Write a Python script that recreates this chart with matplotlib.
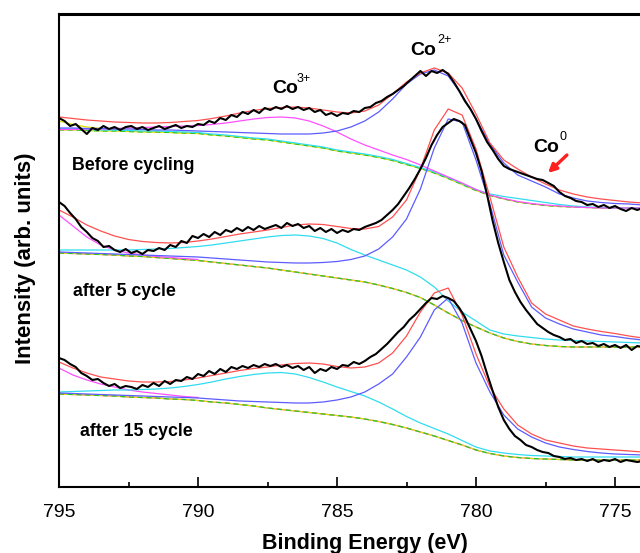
import numpy as np
import matplotlib
matplotlib.use("Agg")
import matplotlib.pyplot as plt
from matplotlib.ticker import MultipleLocator

plt.rcParams['font.family'] = ['Liberation Sans', 'DejaVu Sans']

# energy grids (eV): raw spectra every 0.2 eV, fitted curves every 0.5 eV
raw_ev = np.linspace(795, 774, 106)
fit_ev = np.linspace(795, 774, 43)
left_ev = fit_ev[:11]

# ---------------- Before cycling ----------------
top_raw = [369, 366, 361, 363, 358, 353, 359, 357, 361, 358,
           360, 357, 360, 361, 358, 360, 357, 359, 361, 358,
           360, 362, 359, 361, 360, 363, 362, 366, 364, 369,
           367, 372, 370, 375, 373, 377, 374, 379, 377, 380,
           378, 381, 378, 380, 377, 379, 375, 377, 372, 374,
           371, 374, 373, 376, 375, 379, 380, 384, 386, 390,
           393, 397, 401, 406, 411, 416, 411, 416, 414, 417,
           413, 405, 396, 386, 378, 368, 356, 345, 337, 328,
           321, 318, 316, 314, 312, 310, 308, 307, 304, 301,
           295, 291, 289, 286, 285, 282, 283, 280, 282, 279,
           281, 278, 276, 279, 277, 279]
top_env = [370, 368.5, 367, 366, 365, 364.5, 364, 364, 364.5, 365.5,
           366.5, 368.5, 371, 374, 376.5, 378.5, 379.5, 380, 379, 377,
           375, 374, 376, 382, 393, 405, 414, 419, 414, 399,
           373, 344, 327, 318, 310, 303, 297, 293, 290, 288,
           286.5, 285, 284]
top_co2 = [359, 359, 358.5, 358.5, 358, 358, 357.5, 357, 357, 356.5,
           356, 355.5, 355, 354.5, 354, 353.5, 353, 353, 353, 354,
           356, 360, 366, 375, 388, 403, 413, 417, 411, 392,
           368, 343, 324, 312, 306, 300, 293, 289, 286, 284.5,
           283.5, 283, 282]
top_co3 = [357.5, 357.5, 358, 358, 358.5, 359, 359.5, 360, 360.5, 361,
           361.5, 362.5, 364, 366, 368, 369.5, 370, 369, 366, 361,
           355, 348, 342, 337, 332, 327.5, 322, 316, 310, 304,
           297.5, 292, 288.5, 285.5, 283.5, 282, 281, 280, 279.5, 279,
           279, 279, 279]
top_co0 = [358, 358, 357.5, 357, 357, 356.5, 356, 356, 355.5, 355,
           354.5, 353, 352, 350.5, 349, 348, 346, 344, 342, 340,
           337, 335, 333, 330.5, 327.5, 323.5, 319.5, 315, 309.5, 303.5,
           297.5, 293, 290.5, 288.5, 286.5, 284.5, 282.5, 281, 280, 279.5,
           279, 279, 279]
top_bg = [357, 357, 356.5, 356, 356, 355.5, 355, 355, 354.5, 354,
          353.5, 352, 351, 349.5, 348, 347, 345, 343, 341, 339,
          336, 334, 332, 329.5, 326.5, 322.5, 318.5, 314, 308.5, 302.5,
          296.5, 291.5, 288, 285, 283, 281.5, 280.5, 280, 279.5, 279,
          279, 279, 279]
top_sat = [366, 362.5, 360, 358.5, 357.5, 356.5, 355.5, 355, 354.5, 354, 353.5]

# ---------------- after 5 cycle ----------------
mid_raw = [285, 281, 274, 268, 260, 255, 249, 246, 240, 241,
           237, 235, 238, 234, 236, 233, 237, 236, 239, 237,
           242, 240, 246, 244, 251, 249, 253, 250, 255, 252,
           257, 255, 259, 256, 260, 257, 261, 258, 260, 262,
           259, 264, 261, 263, 259, 261, 256, 259, 255, 258,
           254, 257, 255, 258, 257, 260, 262, 264, 267, 272,
           277, 283, 291, 299, 308, 318, 329, 342, 352, 360,
           364, 368, 366, 362, 348, 334, 316, 292, 266, 244,
           225, 207, 195, 185, 177, 170, 163, 159, 155, 152,
           150, 147, 148, 144, 146, 143, 144, 141, 143, 140,
           142, 139, 142, 137, 141, 140]
mid_env = [277, 270, 262, 256, 251, 247.5, 245.5, 244.5, 244, 244.5,
           246, 248, 250.5, 253, 255, 257, 259.5, 262, 263, 262.5,
           260.5, 258.5, 258, 260.5, 270, 287, 318, 357, 378, 372,
           338, 290, 240, 210, 184, 173, 167, 161, 158, 155.5,
           153.5, 151, 149]
mid_co2 = [235, 234.5, 234, 233.5, 233, 232.5, 232, 231.5, 231, 230.5,
           230, 229, 228, 227, 226, 225, 224.5, 224, 224, 224.5,
           225.5, 227.5, 231, 238, 250, 268, 298, 339, 368, 365,
           327, 283, 232, 205, 180, 169, 163, 158, 155, 152,
           150.5, 148.5, 147]
mid_co3 = [237, 237, 237, 237, 237, 237, 237.5, 238, 238.5, 239.5,
           240.5, 242, 244, 246, 248, 250, 251.5, 252, 251, 248.5,
           244, 237.5, 232, 227, 222, 217, 210, 200, 186, 175,
           166, 157, 153, 151, 149.5, 148, 147, 146.5, 146, 145.5,
           145, 144.5, 144]
mid_bg = [234, 233.5, 233, 232.5, 232, 231, 230.5, 229.5, 228.5, 227.5,
          226.5, 225, 223.5, 222, 220.5, 219, 217, 215, 213, 211,
          209, 207, 205, 202, 198.5, 194.5, 189.5, 182, 174, 166.5,
          160, 154, 149, 145.5, 143, 141.5, 140.5, 140, 140, 140,
          140, 140, 140]
mid_sat = [272, 261, 250, 242, 237, 234, 232, 230.5, 229.5, 228.5, 227.5]

# ---------------- after 15 cycle ----------------
bot_raw = [129, 127, 123, 120, 114, 111, 107, 108, 104, 101,
           103, 99, 101, 100, 98, 102, 100, 104, 101, 106,
           103, 107, 106, 110, 108, 113, 111, 116, 113, 118,
           115, 120, 118, 121, 119, 122, 120, 123, 121, 123,
           120, 122, 119, 121, 117, 120, 114, 118, 116, 120,
           118, 122, 121, 125, 123, 126, 130, 133, 138, 143,
           149, 155, 160, 167, 172, 178, 184, 189, 188, 191,
           189, 186, 179, 170, 158, 146, 131, 113, 96, 80,
           67, 58, 51, 47, 42, 40, 37, 35, 34, 31,
           30, 28, 29, 27, 28, 26, 28, 25, 27, 26,
           28, 25, 27, 26, 25, 26]
bot_env = [125, 119, 114, 110, 108, 106, 105, 105, 105.5, 107,
           109, 111.5, 114, 116.5, 118.5, 120, 122, 123.5, 124, 123,
           120.5, 119, 120, 124, 134, 151, 175, 194, 199, 172,
           133, 100, 78, 62, 53, 47, 44, 41, 39, 38,
           37, 36, 35]
bot_co2 = [94, 93.5, 93, 92.5, 92, 91.5, 91, 90.5, 90, 89.5,
           89, 88, 87, 86, 85.5, 85, 84.5, 84, 84, 85,
           87, 90, 95, 103, 113, 130, 150, 177, 189, 164,
           124, 95, 72, 58, 50, 44, 40, 37.5, 35.5, 34,
           33, 32.5, 32]
bot_co3 = [95, 95.5, 96, 96.5, 97, 97, 97.5, 98, 99, 100.5,
           102.5, 105, 108, 110.5, 112.5, 114, 114.5, 113, 109.5, 105,
           100, 95.5, 91, 85, 78, 70.5, 64, 58.5, 53, 46.5,
           40, 36, 34, 32.5, 31.5, 31, 30.5, 30, 30, 30,
           30, 30, 30]
bot_bg = [93, 92.5, 92, 91.5, 91, 90, 89.5, 89, 88, 87.5,
          86.5, 85, 84, 82.5, 81, 79, 77.5, 76, 74.5, 73,
          71.5, 70, 68, 65.5, 62.5, 59, 55, 51, 46.5, 42,
          37, 33.5, 31, 29.5, 28.5, 28, 27.5, 27, 27, 27,
          27, 27, 27]
bot_sat = [119, 112, 107, 103, 100, 97, 95, 93.5, 92, 90.5, 89.5]

RED = '#ff5050'
BLUE = '#5c5cff'
MAG = '#ff50ff'
CYAN = '#30dcf0'
GREEN = '#30c030'
YEL = '#e0e000'
FLW = 0.9

fig = plt.figure(figsize=(6.4, 5.53), dpi=100)
ax = fig.add_axes([59 / 640, 66 / 553, 583.8 / 640, 473 / 553])


def draw_background(bg):
    ax.plot(fit_ev, bg, color=YEL, lw=FLW)
    ax.plot(fit_ev, bg, color=GREEN, lw=FLW, dashes=(4, 3))


# before cycling: Co3+ magenta, Co0 cyan
ax.plot(left_ev, top_sat, color=YEL, lw=FLW)
draw_background(top_bg)
ax.plot(fit_ev, top_co0, color=CYAN, lw=FLW)
ax.plot(fit_ev, top_co3, color=MAG, lw=FLW)
ax.plot(fit_ev, top_co2, color=BLUE, lw=FLW)
ax.plot(fit_ev, top_env, color=RED, lw=FLW)
ax.plot(raw_ev, top_raw, color='black', lw=1.5)

# after 5 cycle: Co3+ cyan
ax.plot(fit_ev, mid_bg, color=MAG, lw=FLW)
draw_background(mid_bg)
ax.plot(left_ev, mid_sat, color=MAG, lw=FLW)
ax.plot(fit_ev, mid_co3, color=CYAN, lw=FLW)
ax.plot(fit_ev, mid_co2, color=BLUE, lw=FLW)
ax.plot(fit_ev, mid_env, color=RED, lw=FLW)
ax.plot(raw_ev, mid_raw, color='black', lw=1.5)

# after 15 cycle
ax.plot(fit_ev, bot_bg, color=MAG, lw=FLW)
draw_background(bot_bg)
ax.plot(left_ev, bot_sat, color=MAG, lw=FLW)
ax.plot(fit_ev, bot_co3, color=CYAN, lw=FLW)
ax.plot(fit_ev, bot_co2, color=BLUE, lw=FLW)
ax.plot(fit_ev, bot_env, color=RED, lw=FLW)
ax.plot(raw_ev, bot_raw, color='black', lw=1.5)

ax.set_xlim(795, 774)
ax.set_ylim(0, 473)

# sample labels
ax.text(794.53, 322, 'Before cycling', fontsize=12.8, fontweight='bold', va='center')
ax.text(794.5, 195, 'after 5 cycle', fontsize=12.8, fontweight='bold', va='center')
ax.text(794.25, 55, 'after 15 cycle', fontsize=12.8, fontweight='bold', va='center')

# oxidation state labels: "Co" plus a small superscript
ax.text(787.34, 394, 'Co', fontsize=14, fontweight='bold', va='baseline')
ax.text(786.44, 405, '3+', fontsize=9, va='baseline')
ax.text(782.37, 432, 'Co', fontsize=14, fontweight='bold', va='baseline')
ax.text(781.40, 444, '2+', fontsize=9, va='baseline')
ax.text(777.95, 335, 'Co', fontsize=14, fontweight='bold', va='baseline')
ax.text(777.01, 347, '0', fontsize=9, va='baseline')
ax.annotate('', xy=(777.41, 314), xytext=(776.73, 332),
            arrowprops=dict(arrowstyle='-|>', color='#ff2020', lw=2.4,
                            mutation_scale=12, shrinkA=0, shrinkB=0))

# axes styling
for side in ['left', 'bottom', 'right']:
    ax.spines[side].set_linewidth(1.5)
ax.spines['top'].set_linewidth(2.2)
ax.set_xticks([795, 790, 785, 780, 775])
ax.xaxis.set_minor_locator(MultipleLocator(2.5))
ax.set_yticks([])
ax.tick_params(axis='x', which='major', direction='in', length=7, width=1.2,
               labelsize=14, pad=12)
ax.tick_params(axis='x', which='minor', direction='in', length=3.5, width=1.2)

ax.set_xlabel('Binding Energy (eV)', fontsize=15.5, fontweight='bold')
ax.xaxis.set_label_coords(0.524, -0.097)
ax.set_ylabel('Intensity (arb. units)', fontsize=16, fontweight='bold')
ax.yaxis.set_label_coords(-0.040, 0.484)

fig.savefig('out.png', dpi=100)
